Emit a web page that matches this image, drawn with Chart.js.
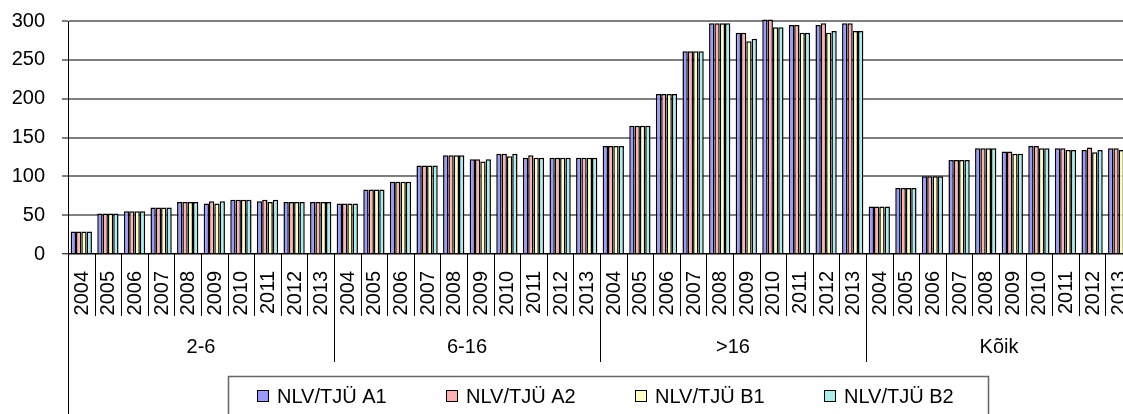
<!DOCTYPE html>
<html>
<head>
<meta charset="utf-8">
<script src="https://cdn.jsdelivr.net/npm/chart.js@4"></script>
<style>
    html, body { margin: 0; padding: 0; background: #fff; overflow: hidden; }
    #wrap { width: 1133px; height: 414px; position: relative; }
</style>
</head>
<body>
<div id="wrap"><canvas id="chart"></canvas></div>
<script>
// Andmed
const years = ['2004', '2005', '2006', '2007', '2008', '2009', '2010', '2011', '2012', '2013'];
const groups = ['2-6', '6-16', '>16', 'Kõik'];
const seriesNames = ['NLV/TJÜ A1', 'NLV/TJÜ A2', 'NLV/TJÜ B1', 'NLV/TJÜ B2'];
const seriesColors = ['#9999ff', '#ffb0b0', '#ffffc4', '#a8eeee'];

// iga rida: 2-6, 6-16, >16, Kõik (aastad 2004-2013)
const valuesA1 = [
    29, 52, 55, 60, 67, 65, 70, 68, 67, 67,
    65, 83, 93, 114, 127, 122, 129, 124, 124, 124,
    139, 165, 206, 261, 297, 285, 302, 295, 295, 297,
    61, 85, 100, 121, 136, 132, 139, 136, 134, 136
];
const valuesA2 = [
    29, 52, 55, 60, 67, 68, 70, 70, 67, 67,
    65, 83, 93, 114, 127, 122, 129, 127, 124, 124,
    139, 165, 206, 261, 297, 285, 302, 295, 297, 297,
    61, 85, 100, 121, 136, 132, 139, 136, 137, 136
];
const valuesB1 = [
    29, 52, 55, 60, 67, 65, 70, 67, 67, 67,
    65, 83, 93, 114, 127, 119, 126, 124, 124, 124,
    139, 165, 206, 261, 297, 274, 292, 285, 285, 287,
    61, 85, 100, 121, 136, 129, 136, 134, 131, 134
];
const valuesB2 = [
    29, 52, 55, 60, 67, 68, 70, 70, 67, 67,
    65, 83, 93, 114, 127, 122, 129, 124, 124, 124,
    139, 165, 206, 261, 297, 277, 292, 285, 287, 287,
    61, 85, 100, 121, 136, 129, 136, 134, 134, 134
];
const yTicks = [0, 50, 100, 150, 200, 250, 300];

const FONT = '"Liberation Sans", Arial, sans-serif';

const labels = [];
groups.forEach(g => years.forEach(y => labels.push(y)));

const allValues = [valuesA1, valuesA2, valuesB1, valuesB2];
const datasets = seriesNames.map((name, i) => ({
    label: name,
    data: allValues[i],
    backgroundColor: seriesColors[i],
    borderColor: '#000',
    borderWidth: 1.5,
    borderSkipped: 'start',
    categoryPercentage: 0.8,
    barPercentage: 1.0,
    clip: false
}));

// x-telg, rühmad ja legend joonistatakse käsitsi
const axisPlugin = {
    id: 'axisPlugin',
    afterDraw(chart) {
        const ctx = chart.ctx;
        const x = chart.scales.x;
        const area = chart.chartArea;
        const n = labels.length;
        const bottom = area.bottom;

        const edge = i => {
            if (i === 0) return area.left;
            if (i === n) return area.right;
            return (x.getPixelForValue(i - 1) + x.getPixelForValue(i)) / 2;
        };

        ctx.save();
        ctx.strokeStyle = '#000';
        ctx.lineWidth = 1;

        // jaotusjooned
        for (let i = 0; i <= n; i++) {
            let len = 62;
            if (i % years.length === 0) len = 108;
            if (i === 0) len = 160;
            const px = Math.round(edge(i)) + 0.5;
            ctx.beginPath();
            ctx.moveTo(px, bottom);
            ctx.lineTo(px, bottom + len);
            ctx.stroke();
        }

        // aastad
        ctx.fillStyle = '#000';
        ctx.font = '20px ' + FONT;
        ctx.textAlign = 'right';
        ctx.textBaseline = 'middle';
        for (let i = 0; i < n; i++) {
            ctx.save();
            ctx.translate(x.getPixelForValue(i) + 1, bottom + 17);
            ctx.rotate(-Math.PI / 2);
            ctx.fillText(labels[i], 0, 0);
            ctx.restore();
        }

        // rühmad
        ctx.textAlign = 'center';
        groups.forEach((g, gi) => {
            const cx = (edge(gi * years.length) + edge((gi + 1) * years.length)) / 2;
            ctx.fillText(g, cx, bottom + 93);
        });

        // legend
        const boxTop = 376.5;
        ctx.strokeStyle = '#666';
        ctx.lineWidth = 1.5;
        ctx.strokeRect(228.5, boxTop, 760, 60);

        ctx.textAlign = 'left';
        ctx.font = '20px ' + FONT;
        chart.data.datasets.forEach((ds, i) => {
            const sx = 257 + i * 189;
            ctx.fillStyle = ds.backgroundColor;
            ctx.fillRect(sx, 390, 12, 12);
            ctx.strokeStyle = '#000';
            ctx.lineWidth = 1;
            ctx.strokeRect(sx + 0.5, 390.5, 11, 11);
            ctx.fillStyle = '#000';
            ctx.fillText(ds.label, sx + 20, 397);
        });
        ctx.restore();
    }
};

new Chart(document.getElementById('chart'), {
    type: 'bar',
    data: { labels: labels, datasets: datasets },
    options: {
        responsive: true,
        maintainAspectRatio: false,
        animation: false,
        layout: { padding: { top: 21, right: 1, bottom: 160, left: 0 } },
        plugins: {
            legend: { display: false },
            tooltip: { enabled: false }
        },
        scales: {
            x: {
                display: false
            },
            y: {
                min: 0,
                max: 300,
                afterBuildTicks: scale => {
                    scale.ticks = yTicks.map(v => ({ value: v }));
                },
                afterFit: scale => {
                    scale.width = 68;
                    scale.paddingTop = 0;
                    scale.paddingBottom = 0;
                },
                border: { display: true, color: '#000', width: 1 },
                grid: {
                    color: c => c.tick && c.tick.value === 0 ? '#000' : '#808080',
                    lineWidth: c => c.tick && c.tick.value === 0 ? 1.5 : 2,
                    tickColor: '#000',
                    tickLength: 6,
                    tickWidth: 1
                },
                ticks: {
                    color: '#000',
                    padding: 17,
                    font: { family: FONT, size: 20 }
                }
            }
        }
    },
    plugins: [axisPlugin]
});
</script>
</body>
</html>
